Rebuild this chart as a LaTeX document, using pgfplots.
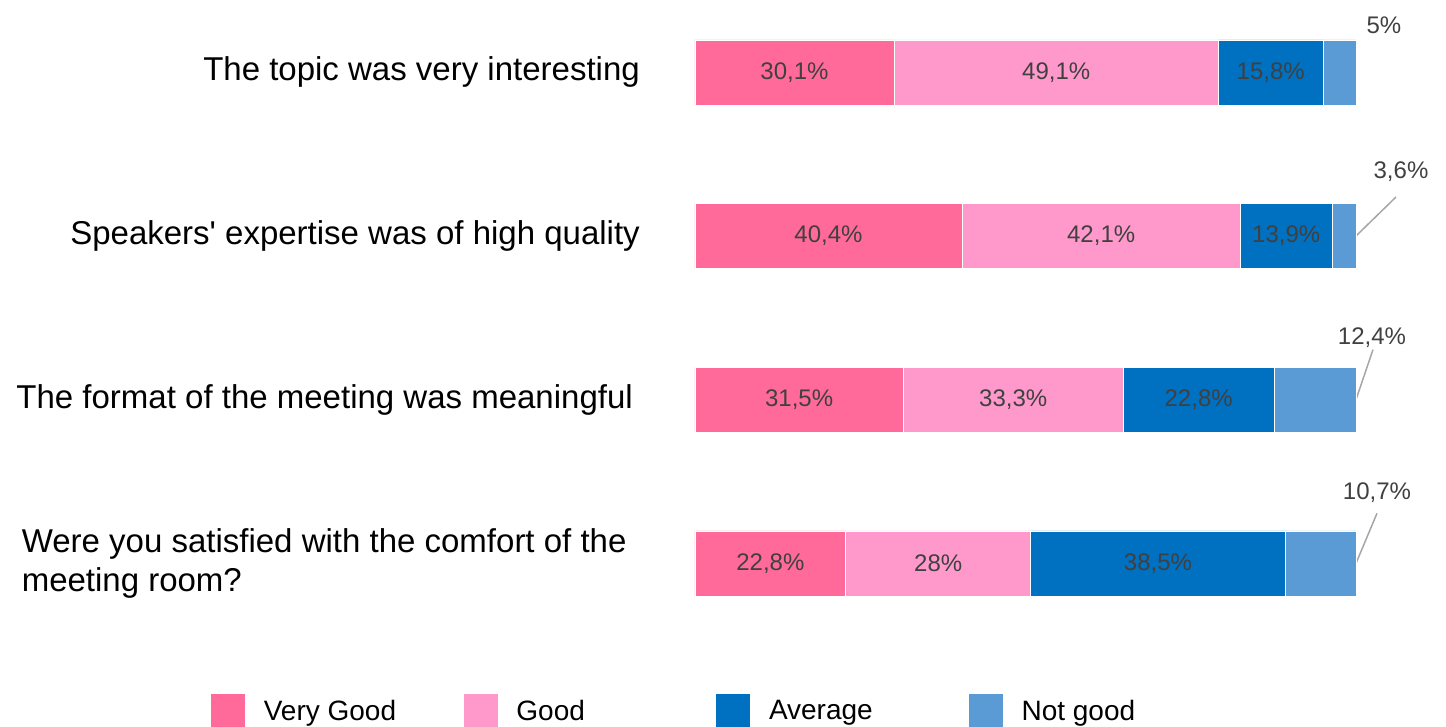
\documentclass[border=0pt]{standalone}
\usepackage{pgfplots}
\pgfplotsset{compat=1.18}
\usepackage{pgfplotstable}
\usepackage{fontspec}
\setmainfont{Liberation Sans}

\definecolor{vgood}{HTML}{FF6A9A}
\definecolor{good}{HTML}{FF99CC}
\definecolor{avg}{HTML}{0070C0}
\definecolor{notgood}{HTML}{5B9BD5}
\definecolor{lbl}{HTML}{404040}
\definecolor{leader}{HTML}{A6A6A6}

% cat: 3 = top question, 0 = bottom question
\pgfplotstableread{
cat vg   g    av   ng
3   30.1 49.1 15.8 5
2   40.4 42.1 13.9 3.6
1   31.5 33.3 22.8 12.4
0   22.8 28   38.5 10.7
}\survey

\pgfplotsset{
  inlbl/.style={
    nodes near coords={\pgfmathprintnumber{\pgfplotspointmeta}\%},
    point meta=explicit,
    every node near coord/.append style={anchor=center,
      font=\fontsize{24}{28}\selectfont, text=lbl},
  },
}
\tikzset{outlbl/.style={font=\fontsize{24}{28}\selectfont, text=lbl}}

\begin{document}
\begin{tikzpicture}
\useasboundingbox (-695pt,0pt) rectangle (751pt,727pt);
\begin{axis}[
  at={(0pt,0pt)}, anchor=south west,
  scale only axis, width=661pt, height=727pt,
  xbar stacked, bar width=65pt,
  xmin=0, xmax=100, ymin=-1, ymax=3.442,
  clip=false,
  axis line style={draw=none},
  xtick=\empty, ytick={0,1,2,3},
  major tick length=0pt,
  /pgf/number format/use comma,
  /pgf/number format/assume math mode=true,
  yticklabels={
    {\parbox{618pt}{\raggedright Were you satisfied with the comfort of the\\meeting room?}},
    {The format of the meeting was meaningful\hspace*{7pt}},
    {Speakers\textquotesingle\ expertise was of high quality},
    {The topic was very interesting}},
  yticklabel style={font=\fontsize{33}{39}\selectfont, anchor=east,
    inner sep=0pt, xshift=-55pt, align=right},
  legend columns=4,
  legend style={at={(rel axis cs:-0.7337,0.022)}, anchor=west,
    draw=none, fill=none, inner sep=0pt,
    nodes={inner sep=0pt},
    font=\fontsize{28}{34}\selectfont},
  legend image code/.code={\fill[#1] (0pt,-17.5pt) rectangle (35pt,17.5pt);},
]
\addplot[fill=vgood, draw=white, line width=0.6pt, inlbl]
  table[x=vg, y=cat, meta=vg] {\survey};
\addlegendentry{\hspace*{18pt}\makebox[199pt][l]{Very Good}}
\addplot[fill=good, draw=white, line width=0.6pt, inlbl]
  table[x=g, y=cat, meta=g] {\survey};
\addlegendentry{\hspace*{18pt}\makebox[199pt][l]{Good}}
\addplot[fill=avg, draw=white, line width=0.6pt, inlbl]
  table[x=av, y=cat, meta=av] {\survey};
\addlegendentry{\hspace*{18pt}\makebox[199pt][l]{Average}}
\addplot[fill=notgood, draw=white, line width=0.6pt]
  table[x=ng, y=cat] {\survey};
\addlegendentry{\hspace*{18pt}Not good}

% labels of the last segment, outside the bars
\node[outlbl] at ([shift={(28pt,47.5pt)}]axis cs:100,3) {5\%};
\draw[leader, line width=1.5pt] (axis cs:100,2) -- ++(40pt,39pt);
\node[outlbl] at ([shift={(45pt,64pt)}]axis cs:100,2) {3,6\%};
\draw[leader, line width=1.5pt] (axis cs:100,1) -- ++(17pt,50pt);
\node[outlbl] at ([shift={(16pt,62pt)}]axis cs:100,1) {12,4\%};
\draw[leader, line width=1.5pt] (axis cs:100,0) -- ++(21pt,50pt);
\node[outlbl] at ([shift={(21pt,71pt)}]axis cs:100,0) {10,7\%};
\end{axis}
\end{tikzpicture}
\end{document}
